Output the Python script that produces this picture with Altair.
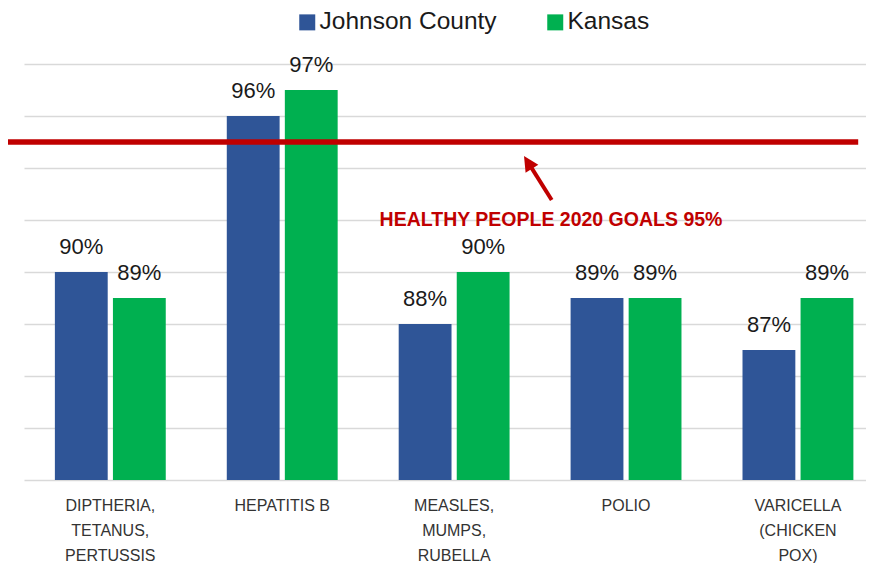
import altair as alt
import pandas as pd

# ---- data ----
categories = ["DIPTHERIA, TETANUS, PERTUSSIS", "HEPATITIS B", "MEASLES, MUMPS, RUBELLA",
              "POLIO", "VARICELLA (CHICKEN POX)"]
series = ["Johnson County", "Kansas"]
johnson_county = [90, 96, 88, 89, 87]
kansas = [89, 97, 90, 89, 89]
colors = ["#2F5597", "#00B050"]
y_ticks = [82, 84, 86, 88, 90, 92, 94, 96, 98]
goal_value = 95
goal_label = "HEALTHY PEOPLE 2020 GOALS 95%"

# annotation anchors in (category-step units, percent)
goal_x = [-0.11, 4.85]
arrow_tail = [3.068, 92.77]
arrow_shaft_end = [2.94, 94.12]
arrow_tip = [2.907, 94.46]
note_anchor = [3.064, 91.77]

rows = []
for i, c in enumerate(categories):
    for s, vals in zip(series, [johnson_county, kansas]):
        rows.append({"category": c, "series": s, "value": vals[i], "label": f"{vals[i]}%"})
df = pd.DataFrame(rows)

FONT = "Liberation Sans"
RED = "#C00000"
W = 842

y_axis = alt.Axis(values=y_ticks, labels=False, ticks=False, domain=False, title=None,
                  grid=True, gridColor="#D9D9D9", gridWidth=1.5)
yscale = alt.Scale(domain=[82, 98], nice=False, zero=False)
xq = alt.Scale(domain=[0, W / 172], nice=False, zero=False)

x_band = alt.X(
    "category:N", sort=categories,
    scale=alt.Scale(paddingInner=0.355, paddingOuter=0.1265, align=0.71),
    axis=alt.Axis(title=None, labelAngle=0, domain=False, ticks=False, grid=False,
                  labelExpr="datum.label == 'HEPATITIS B' ? datum.label : split(datum.label, ' ')",
                  labelFont=FONT, labelFontSize=16, labelColor="#333333",
                  labelLineHeight=25, labelPadding=17, labelLimit=400),
)
x_off = alt.XOffset("series:N", sort=series, scale=alt.Scale(paddingInner=0.09))
y_val = alt.Y("value:Q", scale=yscale, axis=y_axis)

bars = alt.Chart(df).mark_bar().encode(
    x=x_band,
    xOffset=x_off,
    y=y_val,
    y2=alt.datum(82),
    color=alt.Color("series:N", sort=series,
                    scale=alt.Scale(domain=series, range=colors),
                    legend=alt.Legend(orient="none", legendX=271, legendY=-54,
                                      direction="horizontal", title=None,
                                      symbolType="M-1,-1H1V1H-1Z", symbolSize=256,
                                      symbolStrokeWidth=0, symbolOpacity=1,
                                      labelFont=FONT, labelFontSize=24.5, labelColor="#1a1a1a",
                                      labelLimit=400, labelOffset=0, columnPadding=46,
                                      padding=0)),
)

labels = alt.Chart(df).mark_text(baseline="alphabetic", dy=-18, font=FONT, fontSize=22,
                                 color="#1a1a1a").encode(
    x=x_band,
    xOffset=x_off,
    y=y_val,
    text="label:N",
)

goal_df = pd.DataFrame({"x": [goal_x[0]], "x2": [goal_x[1]], "y": [goal_value]})
goal_rule = alt.Chart(goal_df).mark_rule(color=RED, strokeWidth=5.5).encode(
    x=alt.X("x:Q", scale=xq, axis=None), x2="x2:Q",
    y=alt.Y("y:Q", scale=yscale, axis=y_axis),
)

shaft_df = pd.DataFrame({"x": [arrow_tail[0]], "x2": [arrow_shaft_end[0]],
                         "y": [arrow_tail[1]], "y2": [arrow_shaft_end[1]]})
shaft = alt.Chart(shaft_df).mark_rule(color=RED, strokeWidth=4).encode(
    x=alt.X("x:Q", scale=xq, axis=None), x2="x2:Q",
    y=alt.Y("y:Q", scale=yscale, axis=y_axis), y2="y2:Q",
)

head_df = pd.DataFrame({"x": [arrow_tip[0]], "y": [arrow_tip[1]]})
head = alt.Chart(head_df).mark_point(shape="M0,0L-0.5,1L0.5,1Z", size=900, filled=True,
                                     color=RED, opacity=1, angle=328).encode(
    x=alt.X("x:Q", scale=xq, axis=None),
    y=alt.Y("y:Q", scale=yscale, axis=y_axis),
)

note_df = pd.DataFrame({"x": [note_anchor[0]], "y": [note_anchor[1]], "t": [goal_label]})
note = alt.Chart(note_df).mark_text(font=FONT, fontSize=19.5, fontWeight="bold", color=RED,
                                    align="center", baseline="alphabetic").encode(
    x=alt.X("x:Q", scale=xq, axis=None),
    y=alt.Y("y:Q", scale=yscale, axis=y_axis),
    text="t:N",
)

chart = alt.layer(
    alt.layer(bars, labels),
    alt.layer(goal_rule, shaft, head, note),
).resolve_scale(x="independent").properties(
    width=W, height=416,
    padding={"left": 16, "top": 56, "right": 0, "bottom": 83},
    autosize=alt.AutoSizeParams(type="none"),
    background="white",
).configure_view(strokeWidth=0).configure_axis(domain=False, ticks=False)

chart.save("out.html", embed_options={"renderer": "svg", "actions": False})
